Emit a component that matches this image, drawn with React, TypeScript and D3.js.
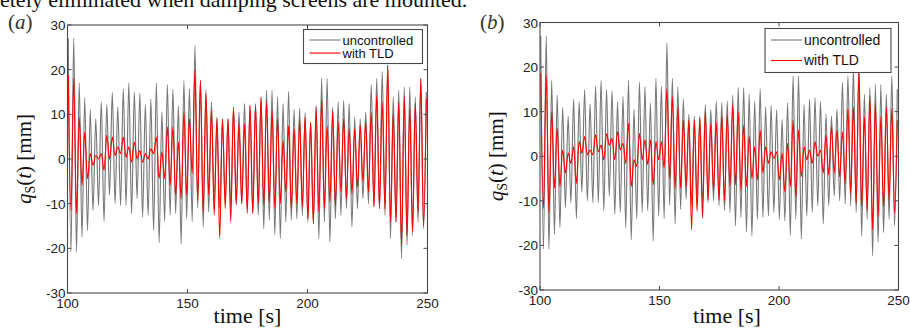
import React from "react";
import * as d3 from "d3";

// ---- data: successive extrema (peak / trough) of the displacement signal, in mm ----
const uncontrolled: number[] = [
  27, -20.8, 27, -20.8, 17, -17.5, 13.7, -16, 11, -11.5,
  9, -10.4, 12.8, -14, 12.2, -8.1, 14.9, -10, 11.7, -10.4,
  15.7, -10.4, 17, -12.2, 15, -8.9, 14.7, -13, 12.2, -12.6,
  13.4, -16, 17, -18.7, 10.5, -14, 16.6, -12.6, 15.6, -12.2,
  11.9, -19, 17.5, -13.4, 15.7, -14, 25.4, -11, 17.5, -15.2,
  15.5, -11.9, 12.8, -9.6, 9.4, -11, 9, -9.6, 9, -11,
  11.6, -10.4, 10.5, -10, 12.4,
  -11.1, 12, -12.2, 12.4, -12.6, 13.7, -15.6, 15.4, -13.7, 15.4,
  -17, 13.9, -17.8, 12.4, -14.1, 15.1, -13.7, 11.1, -13.4, 11.4,
  -12.6, 10.4, -14.1, 8.3, -14.5, 12, -17.8, 18, -14.1, 18,
  -18.6, 11.6, -13.4, 12.8, -12.6, 13.1, -11.1, 12.4, -15.2, 9.4,
  -11.1, 9, -8.9, 10.5, -10, 16.6, -10.7, 18, -11.1, 19.6,
  -12.6, 21, -17.8, 13.9, -14.1, 15.4, -22.3, 16.1, -19.3, 16.1,
  -17.1, 13.9, -14.1, 18, -15.6, 15,
];

const withTLD_a: number[] = [
  18.7, -11.5, 18, -12.2, 9.4, -5.9, 6, -4.4, 1.2, -1.4,
  0.8, 0, 1.2, -2.5, 5.3, 0, 4.9, 0.8, 2.7, 1.2,
  4.9, 0.4, 2.7, -0.7, 3.8, 0, 1.9, -0.7, 1.2, 0,
  2.3, 1.2, 4.9, -4.4, 1.6, -4.4, 7.2, -5.9, 7.2, -8.1,
  3.8, -8.9, 10.5, -8.1, 9, -3.3, 19.9, -9.3, 17.6, -11.9,
  14.6, -8.1, 10.9, -12.6, 9, -17.8, 9, -11.1, 9, -14.1,
  11.6, -10, 7.9, -10, 7.9,
  -12.2, 12, -12.2, 12, -10, 13.9, -10.4, 12.8, -9.6, 10.9,
  -11.1, 9, -10, 4.2, -7.4, 7.5, -11.1, 6.8, -10, 8.7,
  -10.7, 9.4, -13.4, 8.3, -14.5, 11.6, -11.9, 13.5, -11.1, 7.5,
  -9.6, 10.9, -10.4, 8.3, -7.4, 9, -8.9, 6.8, -7.8, 6.8,
  -6.3, 7.5, -5.1, 8.3, -7.4, 10.5, -10.7, 14.3, -11.1, 12.8,
  -11.1, 21, -14.1, 10.1, -14.1, 12.8, -19.3, 13.9, -17.1, 11.3,
  -16.3, 12.4, -11.9, 18, -14.9, 13.5,
];

const withTLD_b: number[] = [
  18.6, -11.7, 18.2, -12.8, 10, -7.2, 6.3, -6.8, 1.4, -3.8,
  0.7, -1.6, 2.1, -6.1, 3.3, 0.7, 4.4, 0.3, 1.4, 0.3,
  4.8, 1, 2.5, -0.8, 5.1, 2.5, 4, -0.8, 5.5, 1.4,
  2.9, -1.6, 7.4, -6.8, -0.8, -2.3, 5.1, -0.8, 3.7, -1.9,
  3.7, -6.4, 3.3, -0.8, 3.3, -2.7, 15.2, -5, 13.4, -7.2,
  11.1, -7.2, 8.1, -6.8, 8.1, -16.5, 8.1, -12.4, 8.5, -13.9,
  10, -9.8, 7.4, -7.6, 7.7,
  -9.8, 8.9, -10.2, 9.3, -6.8, 11.5, -6.4, 10, -7.6, 7,
  -6.8, 4.4, -5, 2.1, -5.3, 5.9, -3.8, 2.1, -1.6, 1,
  -0.5, 1, -5.3, 0.7, -8, 2.9, -6.8, 8.1, -9.1, 5.9,
  -4.6, 2.1, -0.8, 1.4, -1.6, 3.3, 0, 1.4, -3.8, 4.8,
  -4.2, 6.6, -3.8, 5.9, -4.6, 5.5, -6.1, 10.7, -8.3, 11.1,
  -10.6, 19, -11.3, 8.9, -12.1, 13.4, -16.5, 11.9, -13.6, 8.9,
  -11.3, 11.1, -9.8, 10.7, -12.8, 8.1,
];

// time span covered by the extrema samples (s)
const tFirst = 100.3;
const tLast = 249.5;

const xTicks = [100, 150, 200, 250];
const yTicks = [-30, -20, -10, 0, 10, 20, 30];
const legendLabels = ["uncontrolled", "with TLD"];
const panelLabels = ["a", "b"];
const captionText = "completely eliminated when damping screens are mounted.";

const GRAY = "#777777";
const RED = "#ff0000";
const AXIS = "#4a4a4a";
const SANS = "'Liberation Sans', Arial, sans-serif";
const SERIF = "'Liberation Serif', 'DejaVu Serif', serif";

type PanelProps = {
  x0: number; x1: number; yTop: number; yBot: number;
  red: number[]; label: string;
  legend: { x: number; y: number; w: number; h: number; row1: number; row2: number; fs: number };
  yLabelX: number; tagX: number; xLabelX: number;
};

function toPoints(vals: number[]): [number, number][] {
  const n = vals.length;
  return vals.map((v, i) => [tFirst + (i * (tLast - tFirst)) / (n - 1), v]);
}

function Panel(p: PanelProps) {
  const x = d3.scaleLinear().domain([100, 250]).range([p.x0, p.x1]);
  const y = d3.scaleLinear().domain([-30, 30]).range([p.yBot, p.yTop]);
  const line = d3
    .line<[number, number]>()
    .x((d) => x(d[0]))
    .y((d) => y(d[1]))
    .curve(d3.curveMonotoneX);
  const grayPath = line(toPoints(uncontrolled)) || "";
  const redPath = line(toPoints(p.red)) || "";
  const clipId = "clip-" + p.label;
  const tl = 4;
  const L = p.legend;
  return (
    <g>
      <defs>
        <clipPath id={clipId}>
          <rect x={p.x0} y={p.yTop} width={p.x1 - p.x0} height={p.yBot - p.yTop} />
        </clipPath>
      </defs>
      <g clipPath={`url(#${clipId})`}>
        <path d={grayPath} fill="none" stroke={GRAY} strokeWidth={1.15} />
        <path d={redPath} fill="none" stroke={RED} strokeWidth={1.1} />
      </g>
      <rect x={p.x0} y={p.yTop} width={p.x1 - p.x0} height={p.yBot - p.yTop} fill="none" stroke={AXIS} strokeWidth={1.1} />
      {xTicks.map((t) => (
        <g key={"xt" + t}>
          <line x1={x(t)} x2={x(t)} y1={p.yBot} y2={p.yBot - tl} stroke={AXIS} strokeWidth={1} />
          <line x1={x(t)} x2={x(t)} y1={p.yTop} y2={p.yTop + tl} stroke={AXIS} strokeWidth={1} />
          <text x={x(t)} y={p.yBot + 15} fontFamily={SANS} fontSize={13.5} textAnchor="middle" fill="#222">
            {t}
          </text>
        </g>
      ))}
      {yTicks.map((v) => (
        <g key={"yt" + v}>
          <line x1={p.x0} x2={p.x0 + tl} y1={y(v)} y2={y(v)} stroke={AXIS} strokeWidth={1} />
          <line x1={p.x1} x2={p.x1 - tl} y1={y(v)} y2={y(v)} stroke={AXIS} strokeWidth={1} />
          <text x={p.x0 - 2} y={y(v) + 5} fontFamily={SANS} fontSize={13.5} textAnchor="end" fill="#222">
            {v}
          </text>
        </g>
      ))}
      <rect x={L.x} y={L.y} width={L.w} height={L.h} fill="#fff" stroke={AXIS} strokeWidth={1.1} />
      <line x1={L.x + 6} x2={L.x + 37} y1={L.row1} y2={L.row1} stroke={GRAY} strokeWidth={1.1} />
      <line x1={L.x + 6} x2={L.x + 37} y1={L.row2} y2={L.row2} stroke={RED} strokeWidth={1.1} />
      <text x={L.x + 39} y={L.row1 + 4.5} fontFamily={SANS} fontSize={L.fs} fill="#111">{legendLabels[0]}</text>
      <text x={L.x + 39} y={L.row2 + 4.5} fontFamily={SANS} fontSize={L.fs} fill="#111">{legendLabels[1]}</text>
      <text x={p.xLabelX} y={323} fontFamily={SERIF} fontSize={22} textAnchor="middle" fill="#111">
        time [s]
      </text>
      <text
        transform={`translate(${p.yLabelX},${(p.yTop + p.yBot) / 2}) rotate(-90)`}
        fontFamily={SERIF}
        fontSize={21}
        textAnchor="middle"
        fill="#111"
      >
        <tspan fontStyle="italic">q</tspan>
        <tspan fontSize={14} dy={4}>S</tspan>
        <tspan dy={-4}>(</tspan>
        <tspan fontStyle="italic">t</tspan>
        <tspan>) [mm]</tspan>
      </text>
      <text x={p.tagX} y={29} fontFamily={SERIF} fontSize={21} fill="#333">
        (<tspan fontStyle="italic">{p.label}</tspan>)
      </text>
    </g>
  );
}

export default function App() {
  return (
    <svg
      width={910}
      height={329}
      viewBox="0 0 910 329"
      style={{ position: "absolute", left: 0, top: 0, background: "#fff" }}
    >
      <rect width={910} height={329} fill="#fff" />
      <text x={-55} y={7} fontFamily={SERIF} fontSize={22} fill="#111">
        {captionText}
      </text>
      <Panel
        x0={67.5}
        x1={427.5}
        yTop={25}
        yBot={293}
        red={withTLD_a}
        label={panelLabels[0]}
        legend={{ x: 303.5, y: 29.5, w: 119, h: 34, row1: 40, row2: 53, fs: 13 }}
        yLabelX={31}
        tagX={8}
        xLabelX={247.5}
      />
      <Panel
        x0={540}
        x1={898.5}
        yTop={22.5}
        yBot={290}
        red={withTLD_b}
        label={panelLabels[1]}
        legend={{ x: 765, y: 28.5, w: 126, h: 44, row1: 40, row2: 60.5, fs: 14 }}
        yLabelX={503}
        tagX={480}
        xLabelX={727}
      />
    </svg>
  );
}
